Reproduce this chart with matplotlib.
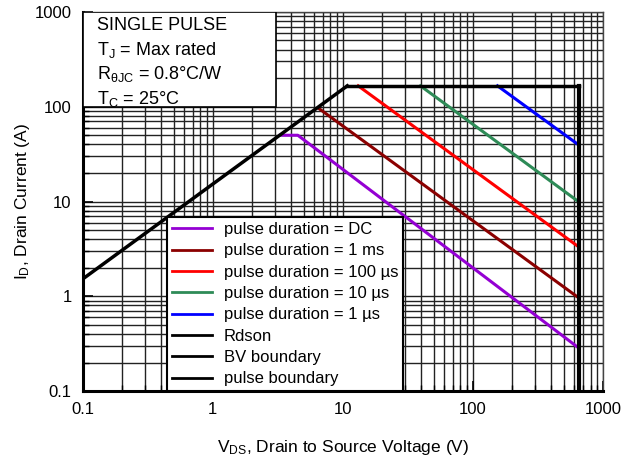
import matplotlib.pyplot as plt
from matplotlib.patches import Rectangle

plt.rcParams['font.family'] = ['Liberation Sans', 'DejaVu Sans']
plt.rcParams['mathtext.fontset'] = 'custom'
plt.rcParams['mathtext.rm'] = 'Liberation Sans'
plt.rcParams['mathtext.it'] = 'Liberation Sans:italic'

# (V_DS [V], I_D [A])
rdson_v = [0.1, 10.8]
rdson_i = [1.52, 166]
pulse_v = [10.8, 650]
pulse_i = [166, 166]
bv_v = [650, 650]
bv_i = [166, 0.1]

dc_v = [3.3, 4.5, 650]
dc_i = [50, 50, 0.284]
ms1_v = [6.45, 650]
ms1_i = [97, 0.96]
us100_v = [13.1, 650]
us100_i = [166, 3.31]
us10_v = [39.4, 650]
us10_i = [166, 9.9]
us1_v = [154, 650]
us1_i = [166, 39.4]

box_lines = ["SINGLE PULSE", r"T$_\mathrm{J}$ = Max rated",
             r"R$_\mathrm{θJC}$ = 0.8°C/W", r"T$_\mathrm{C}$ = 25°C"]

fig = plt.figure(figsize=(6.31, 4.59), dpi=100)
ax = fig.add_axes([0.131, 0.148, 0.825, 0.826])

ax.plot(dc_v, dc_i, color='#9400D3', lw=2.2, label='pulse duration = DC')
ax.plot(ms1_v, ms1_i, color='#8B0000', lw=2.2, label='pulse duration = 1 ms')
ax.plot(us100_v, us100_i, color='#FF0000', lw=2.2, label='pulse duration = 100 µs')
ax.plot(us10_v, us10_i, color='#2E8B57', lw=2.2, label='pulse duration = 10 µs')
ax.plot(us1_v, us1_i, color='#0000FF', lw=2.2, label='pulse duration = 1 µs')
ax.plot(rdson_v, rdson_i, color='black', lw=2.5, label='Rdson')
ax.plot(bv_v, bv_i, color='black', lw=3, label='BV boundary')
ax.plot(pulse_v, pulse_i, color='black', lw=2.5, label='pulse boundary')

ax.set_xscale('log')
ax.set_yscale('log')
ax.set_xlim(0.1, 1000)
ax.set_ylim(0.1, 1000)
ax.set_xticks([0.1, 1, 10, 100, 1000])
ax.set_xticklabels(['0.1', '1', '10', '100', '1000'])
ax.set_yticks([0.1, 1, 10, 100, 1000])
ax.set_yticklabels(['0.1', '1', '10', '100', '1000'])
ax.tick_params(which='both', direction='in', labelsize=12)
ax.tick_params(which='major', length=7, width=1.2, pad=8)
ax.tick_params(which='minor', length=4, width=1)
ax.grid(True, which='both', color='#222222', lw=1.0)
ax.set_axisbelow(True)
for s in ['left', 'bottom']:
    ax.spines[s].set_linewidth(2.2)
for s in ['top', 'right']:
    ax.spines[s].set_linewidth(1.0)
    ax.spines[s].set_color('#444444')

ax.set_xlabel(r'V$_\mathrm{DS}$, Drain to Source Voltage (V)', fontsize=12.5, labelpad=15)
ax.set_ylabel(r'I$_\mathrm{D}$, Drain Current (A)', fontsize=12.5, labelpad=2)

# info box top left
ax.add_patch(Rectangle((0, 0.75), 0.371, 0.25, transform=ax.transAxes,
                       facecolor='white', edgecolor='black', lw=1.2, zorder=4))
for k, t in enumerate(box_lines):
    ax.text(0.027, 0.963 - k * 0.064, t, transform=ax.transAxes, fontsize=13,
            va='center', ha='left', zorder=5)

leg = ax.legend(loc='upper left', bbox_to_anchor=(0.162, 0.459), borderaxespad=0,
                fontsize=12, fancybox=False, framealpha=1, edgecolor='black',
                handlelength=2.4, handletextpad=0.7, labelspacing=0.38,
                borderpad=0.3)
leg.get_frame().set_linewidth(1.5)
for h in leg.get_lines():
    h.set_linewidth(2)
leg.set_zorder(6)

fig.savefig('out.png', dpi=100)
